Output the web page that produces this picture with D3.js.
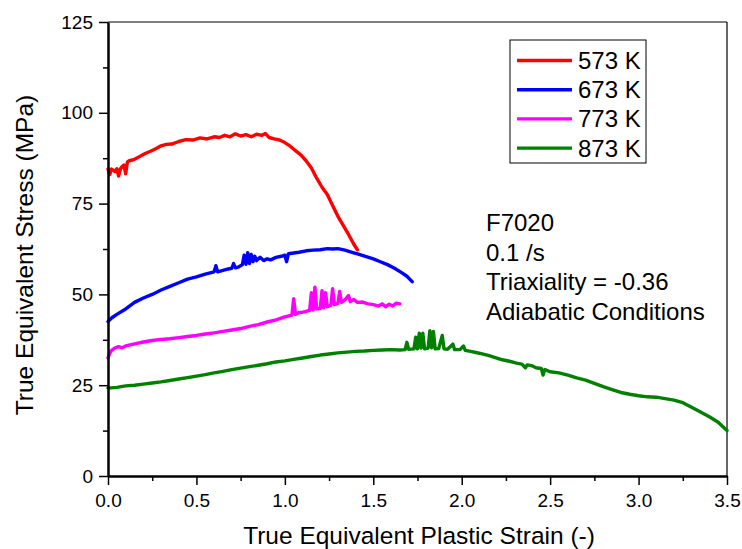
<!DOCTYPE html>
<html>
<head>
<meta charset="utf-8">
<script src="https://cdn.jsdelivr.net/npm/d3@7"></script>
<style>
  html, body { margin: 0; padding: 0; background: #fff; }
  svg { display: block; font-family: "Liberation Sans", Arial, sans-serif; }
</style>
</head>
<body>
<svg id="chart" width="742" height="549"></svg>
<script>
// ---- data ----
const seriesNames = ["573 K", "673 K", "773 K", "873 K"];
const seriesColors = ["#ff0000", "#0000ff", "#ff00ff", "#008000"];

const x573 = [0, 0.01, 0.02, 0.03, 0.04, 0.05, 0.06, 0.07, 0.08, 0.09, 0.10, 0.11, 0.12, 0.15, 0.18, 0.21, 0.24, 0.27, 0.30, 0.33, 0.36, 0.40, 0.44, 0.48, 0.52, 0.56, 0.60, 0.63, 0.66, 0.69, 0.72, 0.75, 0.78, 0.81, 0.84, 0.87, 0.89, 0.91, 0.94, 0.97, 1.00, 1.03, 1.06, 1.09, 1.12, 1.15, 1.18, 1.21, 1.24, 1.27, 1.30, 1.33, 1.36, 1.39, 1.41];
const y573 = [84.5, 83.0, 84.5, 84.2, 83.8, 84.6, 82.6, 84.5, 85.2, 85.6, 83.2, 86.5, 86.8, 87.2, 88.0, 88.8, 89.4, 90.1, 90.9, 91.3, 91.4, 92.1, 92.6, 92.5, 93.1, 92.8, 93.4, 93.2, 93.8, 93.4, 94.2, 93.6, 94.0, 93.4, 94.1, 93.8, 94.3, 93.2, 92.8, 92.5, 91.8, 90.8, 89.6, 88.4, 86.8, 84.8, 82.0, 79.5, 77.5, 74.5, 71.5, 69.0, 66.5, 63.8, 62.3];

const x673 = [0, 0.02, 0.05, 0.10, 0.15, 0.20, 0.25, 0.30, 0.35, 0.40, 0.45, 0.50, 0.55, 0.60, 0.61, 0.62, 0.65, 0.68, 0.70, 0.71, 0.72, 0.74, 0.76, 0.77, 0.78, 0.79, 0.80, 0.81, 0.82, 0.83, 0.84, 0.86, 0.88, 0.90, 0.92, 0.95, 0.98, 1.00, 1.01, 1.02, 1.05, 1.08, 1.12, 1.16, 1.20, 1.24, 1.27, 1.30, 1.34, 1.38, 1.42, 1.46, 1.50, 1.54, 1.58, 1.62, 1.66, 1.69, 1.72];
const y673 = [42.5, 43.5, 44.5, 46.0, 47.8, 49.0, 50.0, 51.2, 52.2, 53.2, 54.2, 54.8, 55.6, 56.2, 57.9, 56.2, 56.6, 57.0, 57.2, 58.5, 57.3, 57.6, 58.2, 60.8, 58.3, 61.5, 58.5, 61.0, 59.0, 60.5, 59.3, 60.2, 59.3, 59.8, 59.5, 60.2, 60.5, 60.8, 59.0, 61.2, 61.4, 61.6, 62.0, 62.2, 62.3, 62.6, 62.5, 62.6, 62.2, 61.6, 61.0, 60.4, 59.8, 59.0, 58.2, 57.2, 56.0, 55.0, 53.5];

const x773 = [0, 0.01, 0.02, 0.04, 0.06, 0.08, 0.10, 0.15, 0.20, 0.25, 0.30, 0.35, 0.40, 0.45, 0.50, 0.55, 0.60, 0.65, 0.70, 0.75, 0.80, 0.85, 0.90, 0.95, 1.00, 1.04, 1.05, 1.06, 1.08, 1.10, 1.12, 1.14, 1.15, 1.16, 1.17, 1.18, 1.20, 1.21, 1.22, 1.23, 1.24, 1.26, 1.27, 1.28, 1.30, 1.31, 1.32, 1.34, 1.36, 1.37, 1.39, 1.41, 1.44, 1.47, 1.50, 1.53, 1.55, 1.57, 1.59, 1.61, 1.63, 1.65];
const y773 = [32.5, 33.8, 34.6, 35.3, 35.6, 35.3, 35.8, 36.4, 36.9, 37.3, 37.6, 37.8, 38.1, 38.4, 38.7, 39.1, 39.4, 39.8, 40.2, 40.6, 41.2, 41.7, 42.4, 43.0, 43.8, 44.3, 48.8, 44.5, 45.0, 45.1, 45.3, 45.6, 50.5, 45.7, 52.0, 46.0, 46.1, 51.0, 46.3, 50.5, 46.6, 47.0, 51.6, 47.2, 47.5, 50.8, 47.8, 48.5, 49.7, 48.0, 48.6, 47.8, 47.9, 47.4, 47.2, 46.8, 47.4, 46.6, 47.3, 46.8, 47.6, 47.4];

const x873 = [0, 0.05, 0.10, 0.15, 0.20, 0.25, 0.30, 0.35, 0.40, 0.45, 0.50, 0.55, 0.60, 0.65, 0.70, 0.75, 0.80, 0.85, 0.90, 0.95, 1.00, 1.05, 1.10, 1.15, 1.20, 1.25, 1.30, 1.35, 1.40, 1.45, 1.50, 1.55, 1.60, 1.65, 1.68, 1.69, 1.70, 1.73, 1.74, 1.75, 1.76, 1.77, 1.78, 1.79, 1.81, 1.82, 1.83, 1.84, 1.85, 1.87, 1.89, 1.90, 1.92, 1.95, 1.96, 1.99, 2.01, 2.02, 2.05, 2.08, 2.11, 2.15, 2.19, 2.23, 2.27, 2.31, 2.34, 2.36, 2.37, 2.40, 2.42, 2.45, 2.46, 2.47, 2.50, 2.55, 2.60, 2.65, 2.70, 2.75, 2.80, 2.85, 2.90, 2.95, 3.00, 3.05, 3.10, 3.15, 3.20, 3.25, 3.30, 3.35, 3.40, 3.45, 3.50];
const y873 = [24.2, 24.4, 24.8, 25.0, 25.3, 25.6, 25.9, 26.3, 26.7, 27.1, 27.5, 27.9, 28.4, 28.8, 29.3, 29.7, 30.1, 30.5, 30.9, 31.4, 31.7, 32.1, 32.5, 32.9, 33.3, 33.6, 33.9, 34.1, 34.3, 34.4, 34.6, 34.7, 34.8, 34.7, 34.8, 36.8, 34.9, 35.0, 38.2, 35.0, 39.3, 35.2, 39.3, 35.0, 35.2, 40.0, 35.3, 39.8, 35.0, 35.1, 38.7, 35.0, 34.9, 36.3, 34.8, 34.8, 35.8, 34.6, 34.3, 34.0, 33.7, 33.2, 32.6, 32.0, 31.6, 31.1, 30.8, 29.8, 30.6, 30.3, 29.8, 29.6, 27.8, 29.3, 28.7, 28.4, 27.8, 27.0, 26.4, 25.5, 24.6, 23.8, 23.0, 22.5, 22.1, 21.8, 21.7, 21.3, 20.9, 20.2, 18.9, 17.6, 16.3, 14.8, 12.5];

const xTicks = [0.0, 0.5, 1.0, 1.5, 2.0, 2.5, 3.0, 3.5];
const yTicks = [0, 25, 50, 75, 100, 125];
const annotations = ["F7020", "0.1 /s", "Triaxiality = -0.36", "Adiabatic Conditions"];
const xTitle = "True Equivalent Plastic Strain (-)";
const yTitle = "True Equivalent Stress (MPa)";

// ---- build ----
const seriesX = [x573, x673, x773, x873];
const seriesY = [y573, y673, y773, y873];
const series = seriesNames.map((n, i) => ({
  name: n, color: seriesColors[i],
  pts: seriesX[i].map((xv, j) => [xv, seriesY[i][j]])
}));

const svg = d3.select("#chart");
const L = 108, R = 727, T = 22, B = 476;
const x = d3.scaleLinear().domain([0, 3.5]).range([L, R]);
const y = d3.scaleLinear().domain([0, 125]).range([B, T]);

// frame top/right
svg.append("line").attr("x1", L).attr("x2", R).attr("y1", T).attr("y2", T)
  .attr("stroke", "#000").attr("stroke-width", 1.2);
svg.append("line").attr("x1", R).attr("x2", R).attr("y1", T).attr("y2", B)
  .attr("stroke", "#000").attr("stroke-width", 1.2);

// lines
const line = d3.line().x(d => x(d[0])).y(d => y(d[1]));
series.forEach(s => {
  svg.append("path").datum(s.pts)
    .attr("d", line)
    .attr("fill", "none")
    .attr("stroke", s.color)
    .attr("stroke-width", 3.4)
    .attr("stroke-linejoin", "round")
    .attr("stroke-linecap", "round");
});

// minor ticks
const xMinor = d3.range(0.25, 3.5, 0.5);
const yMinor = d3.range(12.5, 125, 25);
svg.append("g").attr("transform", `translate(0,${B})`)
  .call(d3.axisBottom(x).tickValues(xMinor).tickSize(5).tickFormat(""))
  .call(g => { g.select(".domain").remove(); g.selectAll("line").attr("stroke-width", 1.5); });
svg.append("g").attr("transform", `translate(${L},0)`)
  .call(d3.axisLeft(y).tickValues(yMinor).tickSize(5).tickFormat(""))
  .call(g => { g.select(".domain").remove(); g.selectAll("line").attr("stroke-width", 1.5); });

// major axes
const xAxis = svg.append("g").attr("transform", `translate(0,${B})`)
  .call(d3.axisBottom(x).tickValues(xTicks).tickSize(9).tickSizeOuter(0).tickPadding(5).tickFormat(d3.format(".1f")));
const yAxis = svg.append("g").attr("transform", `translate(${L},0)`)
  .call(d3.axisLeft(y).tickValues(yTicks).tickSize(9).tickSizeOuter(0).tickPadding(5).tickFormat(d3.format("d")));
[xAxis, yAxis].forEach(g => {
  g.select(".domain").attr("stroke-width", 2.5);
  g.selectAll(".tick line").attr("stroke-width", 1.5);
  g.selectAll("text").attr("font-size", 19).attr("fill", "#000")
    .attr("font-family", "'Liberation Sans', Arial, sans-serif");
});
xAxis.selectAll("text").attr("dy", "0.9em");
yAxis.selectAll("text").attr("dx", "-1px");

// titles
svg.append("text").attr("x", 419).attr("y", 544)
  .attr("text-anchor", "middle").attr("font-size", 24.5).text(xTitle);
svg.append("text").attr("transform", `translate(33,${(T + B) / 2 + 6}) rotate(-90)`)
  .attr("text-anchor", "middle").attr("font-size", 24.5).text(yTitle);

// legend
const lg = svg.append("g");
lg.append("rect").attr("x", 510).attr("y", 40).attr("width", 136).attr("height", 123)
  .attr("fill", "#fff").attr("stroke", "#000").attr("stroke-width", 1);
series.forEach((s, i) => {
  const cy = 60.5 + i * 29.2;
  lg.append("line").attr("x1", 517).attr("x2", 572).attr("y1", cy).attr("y2", cy)
    .attr("stroke", s.color).attr("stroke-width", 3.4);
  lg.append("text").attr("x", 578).attr("y", cy + 8.5).attr("font-size", 24).text(s.name);
});

// annotation
annotations.forEach((t, i) => {
  svg.append("text").attr("x", 486).attr("y", 231 + i * 29.7)
    .attr("font-size", 24).text(t);
});
</script>
</body>
</html>
